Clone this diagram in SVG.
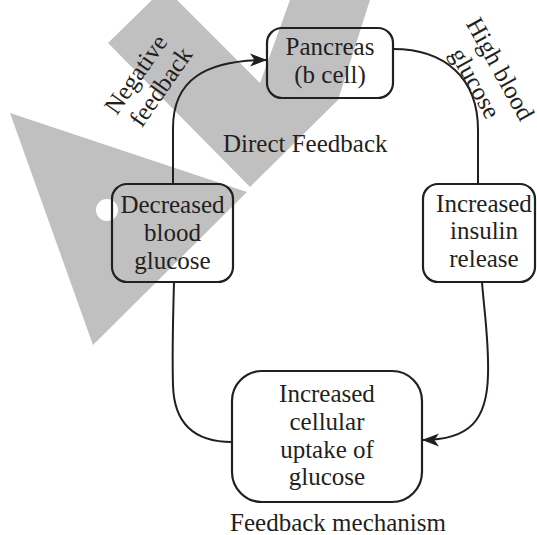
<svg xmlns="http://www.w3.org/2000/svg" width="537" height="535" viewBox="0 0 537 535">
<style>
.wm{fill:#c0c0c0;stroke:none}
.box{fill:none;stroke:#231f20;stroke-width:2.2}
.con{fill:none;stroke:#231f20;stroke-width:2}
text{font-family:"Liberation Serif","Times New Roman",serif;font-size:25px;fill:#231f20}
.c{text-anchor:middle}
</style>
<defs>
<marker id="ah" markerUnits="userSpaceOnUse" markerWidth="20" markerHeight="16" viewBox="-18 -8 20 16" refX="0" refY="0" orient="auto">
<path d="M0,0 L-17,-6.5 L-12.5,0 L-17,6.5 Z" fill="#231f20"/>
</marker>
</defs>
<g id="watermark">
<polygon class="wm" points="108,43 152,0 177,0 260,83 290,0 370,0 338,100 250,187"/>
<polygon class="wm" points="10,113 247,192 93,345"/>
<circle cx="107" cy="210" r="11" fill="#ffffff"/>
</g>
<g id="connectors">
<path class="con" d="M173,184 L173,128 C173,80 205,60 267,60" marker-end="url(#ah)"/>
<path class="con" d="M393,49 C445,49 478,78 478,130 L478,184"/>
<path class="con" d="M482,282 C484,310 489,340 488,375 C487,420 470,440 422,440" marker-end="url(#ah)"/>
<path class="con" d="M174,282 C173,320 172,350 173,385 C174,425 195,442 232,442"/>
</g>
<g id="pancreas">
<rect class="box" x="267" y="28" width="126" height="70" rx="15"/>
<text class="c" x="330" y="55">Pancreas</text>
<text class="c" x="330" y="83">(b cell)</text>
</g>
<g id="decreased">
<rect class="box" x="112" y="184" width="121" height="98" rx="15"/>
<text class="c" x="172.5" y="213">Decreased</text>
<text class="c" x="172.5" y="241">blood</text>
<text class="c" x="172.5" y="269">glucose</text>
</g>
<g id="insulin">
<rect class="box" x="423" y="184" width="112" height="98" rx="15"/>
<text class="c" x="484" y="212">Increased</text>
<text class="c" x="484" y="239">insulin</text>
<text class="c" x="484" y="267">release</text>
</g>
<g id="uptake">
<rect class="box" x="232" y="371" width="190" height="131" rx="30"/>
<text class="c" x="327" y="402">Increased</text>
<text class="c" x="327" y="430">cellular</text>
<text class="c" x="327" y="458">uptake of</text>
<text class="c" x="327" y="485">glucose</text>
</g>
<g id="labels">
<text class="c" transform="translate(142.5,79) rotate(-55)">Negative</text>
<text class="c" transform="translate(167.5,91.5) rotate(-55)">feedback</text>
<text class="c" transform="translate(493,73) rotate(61)">High blood</text>
<text class="c" transform="translate(468,87) rotate(61)">glucose</text>
<text x="223" y="152">Direct Feedback</text>
<text class="c" x="338" y="531">Feedback mechanism</text>
</g>
</svg>
